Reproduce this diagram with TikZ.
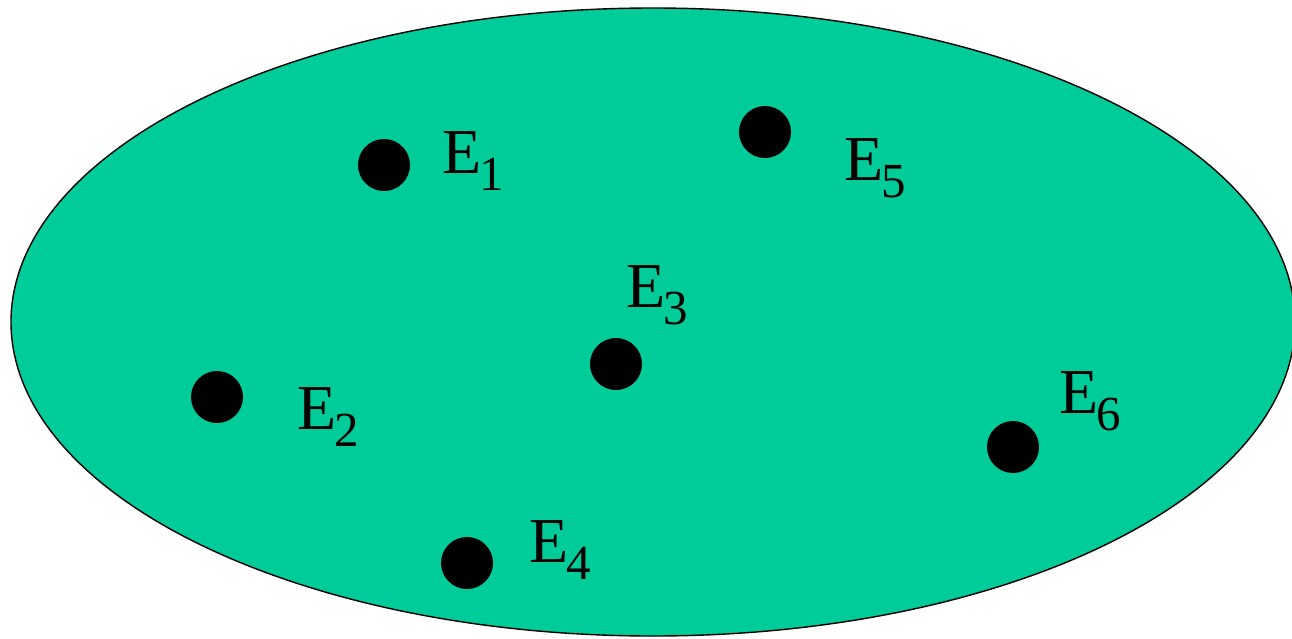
\documentclass[tikz,border=0pt]{standalone}
\usepackage{fontspec}
\setmainfont{Liberation Serif}
\usepackage{tikz}
\usetikzlibrary{positioning}

\definecolor{setgreen}{RGB}{0,204,153}

\newcommand{\elem}[1]{E\kern-2pt\raisebox{-17pt}{\fontsize{49}{49}\selectfont #1}}

\begin{document}
\begin{tikzpicture}[
    x=1pt, y=-1pt,
    dot/.style={circle, fill=black, inner sep=0pt, minimum size=52pt},
    lbl/.style={anchor=base west, inner sep=0pt, font=\fontsize{64}{64}\selectfont},
]
    \useasboundingbox (0,0) rectangle (1292,638);

    % Set
    \filldraw[fill=setgreen, draw=black, line width=1.4pt] (653,322) ellipse[x radius=642, y radius=314];

    % Elements
    \node[dot] (e1) at (384,165) {};
    \node[dot] (e2) at (217,397) {};
    \node[dot] (e3) at (616,364) {};
    \node[dot] (e4) at (467,563) {};
    \node[dot] (e5) at (765,132) {};
    \node[dot] (e6) at (1013,447) {};

    % Labels
    \node[lbl] (l1) at (442,173) {\elem{1}};
    \node[lbl] (l2) at (297,429) {\elem{2}};
    \node[lbl] (l3) at (626,307) {\elem{3}};
    \node[lbl] (l4) at (529,562) {\elem{4}};
    \node[lbl] (l5) at (844,180) {\elem{5}};
    \node[lbl] (l6) at (1059,413) {\elem{6}};
\end{tikzpicture}
\end{document}
